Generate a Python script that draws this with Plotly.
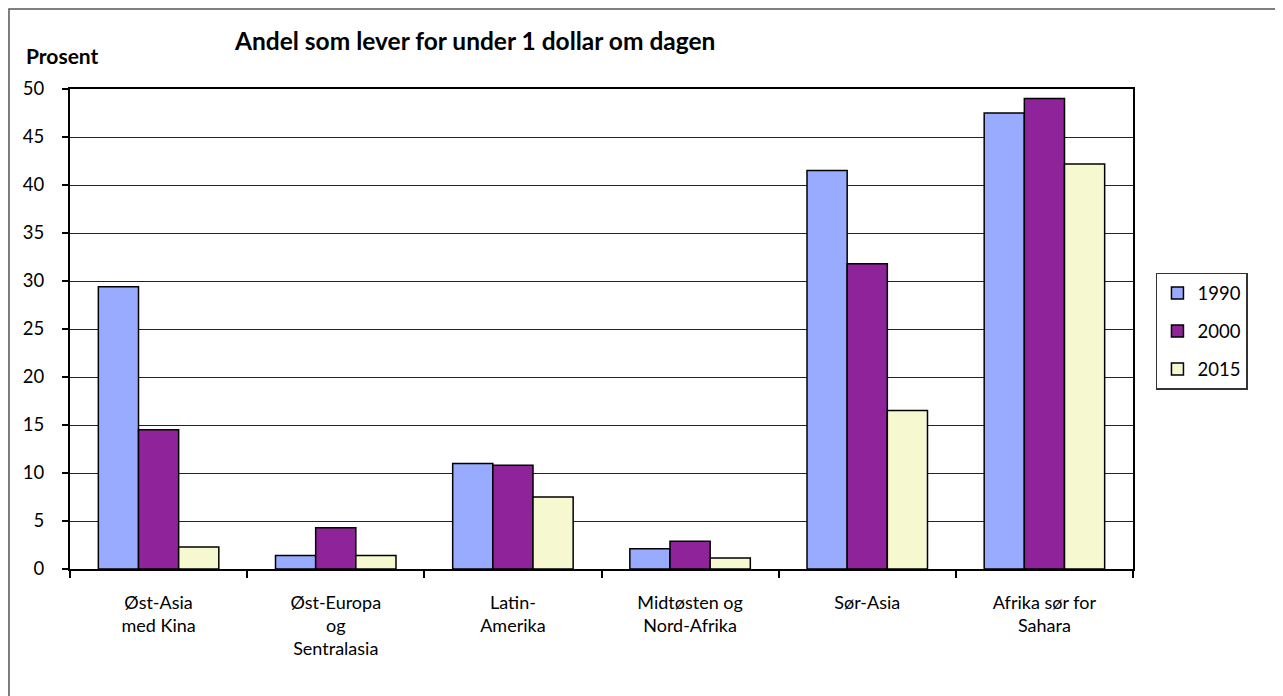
import plotly.graph_objects as go

# regions and values (percent living on under 1 dollar per day)
regions = [
    "Øst-Asia<br>med Kina",
    "Øst-Europa<br>og<br>Sentralasia",
    "Latin-<br>Amerika",
    "Midtøsten og<br>Nord-Afrika",
    "Sør-Asia",
    "Afrika sør for<br>Sahara",
]
years = ["1990", "2000", "2015"]
v1990 = [29.4, 1.4, 11.0, 2.1, 41.5, 47.5]
v2000 = [14.5, 4.3, 10.8, 2.9, 31.8, 49.0]
v2015 = [2.3, 1.4, 7.5, 1.15, 16.5, 42.2]
yticks = [0, 5, 10, 15, 20, 25, 30, 35, 40, 45, 50]

colors = ['#99ABFF', '#8F2399', '#F6F9D0']
font_name = "Lato, 'Noto Sans', sans-serif"

fig = go.Figure()
for i, (name, vals) in enumerate(zip(years, [v1990, v2000, v2015])):
    fig.add_trace(go.Bar(
        x=regions,
        y=vals,
        name=name,
        legendgroup=name,
        marker=dict(color=colors[i], line=dict(color='black', width=1.5)),
    ))

# page body has an 8px margin, so the figure is a bit smaller than the window
fig.update_layout(
    width=1275, height=688,
    barmode='group',
    bargap=0.32,
    bargroupgap=0,
    plot_bgcolor='white',
    paper_bgcolor='white',
    font=dict(family=font_name, size=18, color='black'),
    margin=dict(l=62, r=150, t=81, b=127),
    showlegend=True,
    legend=dict(
        x=1.0216, y=0.6167, xanchor='left', yanchor='top',
        bordercolor='#333333', borderwidth=1.5, bgcolor='white',
        traceorder='grouped', tracegroupgap=11,
        font=dict(size=18.5),
    ),
)

fig.update_xaxes(
    type='category',
    showline=True, linecolor='black', linewidth=2, mirror=True,
    ticks='outside', tickson='boundaries', ticklen=7, tickcolor='black', tickwidth=2,
    ticklabelstandoff=16,
    showgrid=False,
    tickfont=dict(size=18),
)
fig.update_yaxes(
    range=[0, 50],
    tickvals=yticks,
    showline=True, linecolor='black', linewidth=2, mirror=True,
    ticks='outside', ticklen=6, tickcolor='black', tickwidth=2,
    ticklabelstandoff=14,
    showgrid=True, gridcolor='#222222', gridwidth=1.2,
    zeroline=False,
    tickfont=dict(size=18.5),
)

# outer frame around whole chart (right and bottom edges fall off the page)
fig.add_shape(
    type='rect', xref='paper', yref='paper',
    x0=-0.0574, x1=1.2, y0=-0.3, y1=1.1667,
    line=dict(color='#555555', width=1.5), fillcolor='rgba(0,0,0,0)',
    layer='below',
)

fig.add_annotation(
    text="<b>Andel som lever for under 1 dollar om dagen</b>",
    xref='paper', yref='paper', x=0.1524, y=1.1,
    xanchor='left', yanchor='middle', showarrow=False,
    font=dict(size=24.5),
)
fig.add_annotation(
    text="<b>Prosent</b>",
    xref='paper', yref='paper', x=-0.0433, y=1.0688,
    xanchor='left', yanchor='middle', showarrow=False,
    font=dict(size=21),
)

fig.write_html("out.html")
